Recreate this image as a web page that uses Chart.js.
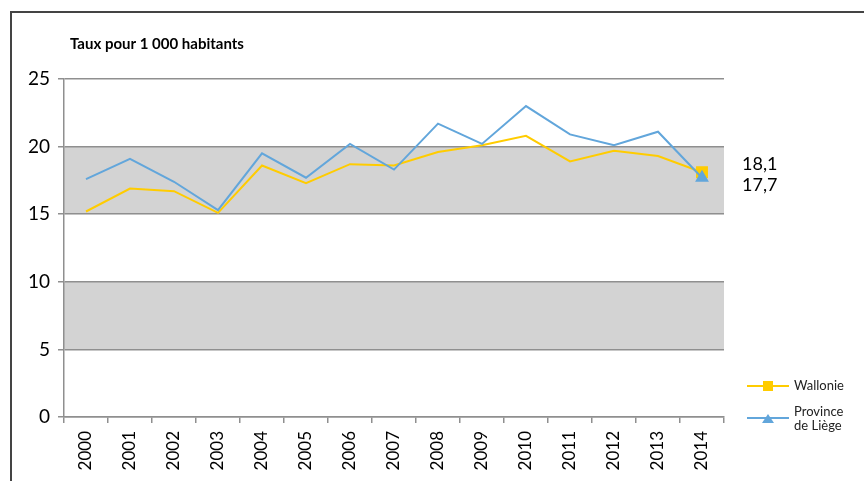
<!DOCTYPE html>
<html>
<head>
<meta charset="utf-8">
<script src="https://cdn.jsdelivr.net/npm/chart.js@4.4.1/dist/chart.umd.min.js"></script>
<style>
  html, body { margin: 0; padding: 0; background: #fff; }
  #wrap { width: 864px; height: 481px; position: relative; }
</style>
</head>
<body>
<div id="wrap"><canvas id="myChart"></canvas></div>
<script>
// data
const years = ['2000', '2001', '2002', '2003', '2004', '2005', '2006', '2007',
  '2008', '2009', '2010', '2011', '2012', '2013', '2014'];
const wallonie = [15.2, 16.9, 16.7, 15.1, 18.6, 17.3, 18.7, 18.6, 19.6, 20.1, 20.8, 18.9, 19.7, 19.3, 18.1];
const liege = [17.6, 19.1, 17.4, 15.3, 19.5, 17.7, 20.2, 18.3, 21.7, 20.2, 23.0, 20.9, 20.1, 21.1, 17.7];
const yTicks = [0, 5, 10, 15, 20, 25];
const shadedBands = [[5, 10], [15, 20]];
const titleText = 'Taux pour 1 000 habitants';

const YELLOW = '#FFCC00';
const BLUE = '#62A6DB';
const GRID = '#8f8f8f';
const FONT = 'Lato, "Open Sans", sans-serif';

// radius only on the last point
const lastOnly = (arr, r) => arr.map((v, i) => (i === arr.length - 1 ? r : 0));

const decorPlugin = {
  id: 'decor',
  beforeDraw(chart) {
    const { ctx, chartArea, scales } = chart;
    const y = scales.y;
    ctx.save();
    ctx.fillStyle = '#d3d3d3';
    shadedBands.forEach(([lo, hi]) => {
      const top = y.getPixelForValue(hi);
      const bot = y.getPixelForValue(lo);
      ctx.fillRect(chartArea.left, top, chartArea.right - chartArea.left, bot - top);
    });
    ctx.restore();
  },
  afterDraw(chart) {
    const { ctx } = chart;
    ctx.save();
    // outer frame
    ctx.strokeStyle = '#444';
    ctx.lineWidth = 2;
    ctx.beginPath();
    ctx.moveTo(11, 481);
    ctx.lineTo(11, 12);
    ctx.lineTo(864, 12);
    ctx.stroke();

    // title
    ctx.fillStyle = '#000';
    ctx.font = 'bold 15px ' + FONT;
    ctx.textBaseline = 'middle';
    ctx.fillText(titleText, 70, 44);

    // end labels
    ctx.font = '18px ' + FONT;
    ctx.textBaseline = 'middle';
    const n = years.length - 1;
    const xPos = chart.getDatasetMeta(0).data[n].x;
    ctx.fillText(String(wallonie[n]).replace('.', ','), xPos + 40, 164);
    ctx.fillText(String(liege[n]).replace('.', ','), xPos + 40, 185);

    // legend
    ctx.font = '13px ' + FONT;
    ctx.lineWidth = 2;
    ctx.strokeStyle = YELLOW;
    ctx.beginPath(); ctx.moveTo(747, 386); ctx.lineTo(789, 386); ctx.stroke();
    ctx.fillStyle = YELLOW;
    ctx.fillRect(763, 381, 10, 10);
    ctx.fillStyle = '#222';
    ctx.fillText('Wallonie', 794, 386);

    ctx.strokeStyle = BLUE;
    ctx.beginPath(); ctx.moveTo(747, 418); ctx.lineTo(789, 418); ctx.stroke();
    ctx.fillStyle = BLUE;
    ctx.beginPath(); ctx.moveTo(768, 414); ctx.lineTo(774, 423); ctx.lineTo(762, 423); ctx.closePath(); ctx.fill();
    ctx.fillStyle = '#222';
    ctx.fillText('Province', 794, 412);
    ctx.fillText('de Liège', 794, 426);
    ctx.restore();
  }
};

new Chart(document.getElementById('myChart'), {
  type: 'line',
  data: {
    labels: years,
    datasets: [
      {
        label: 'Wallonie',
        data: wallonie,
        borderColor: YELLOW,
        backgroundColor: YELLOW,
        borderWidth: 2,
        pointStyle: 'rect',
        pointRadius: lastOnly(wallonie, 7),
        pointHoverRadius: 0,
        tension: 0,
        order: 1
      },
      {
        label: 'Province de Liège',
        data: liege,
        borderColor: BLUE,
        backgroundColor: BLUE,
        borderWidth: 2,
        pointStyle: 'triangle',
        pointRadius: lastOnly(liege, 6),
        pointHoverRadius: 0,
        tension: 0,
        order: 0
      }
    ]
  },
  options: {
    responsive: true,
    maintainAspectRatio: false,
    animation: false,
    events: [],
    layout: { padding: { left: 0, right: 140, top: 79, bottom: 0 } },
    plugins: {
      legend: { display: false },
      tooltip: { enabled: false }
    },
    scales: {
      x: {
        offset: true,
        grid: {
          offset: true,
          drawOnChartArea: false,
          drawTicks: true,
          tickLength: 6,
          color: GRID,
          lineWidth: 1.5
        },
        border: { display: true, color: GRID, width: 1.5 },
        ticks: {
          color: '#000',
          font: { family: FONT, size: 17 },
          minRotation: 90,
          maxRotation: 90,
          padding: 8,
          autoSkip: false
        },
        afterFit(scale) { scale.height = 64; }
      },
      y: {
        min: 0,
        max: 25,
        afterBuildTicks(scale) { scale.ticks = yTicks.map(v => ({ value: v })); },
        grid: {
          color: GRID,
          lineWidth: 1.5,
          tickLength: 6
        },
        border: { display: true, color: GRID, width: 1.5 },
        ticks: {
          color: '#000',
          font: { family: FONT, size: 19 },
          padding: 8
        },
        afterFit(scale) { scale.width = 64; }
      }
    }
  },
  plugins: [decorPlugin]
});
</script>
</body>
</html>
